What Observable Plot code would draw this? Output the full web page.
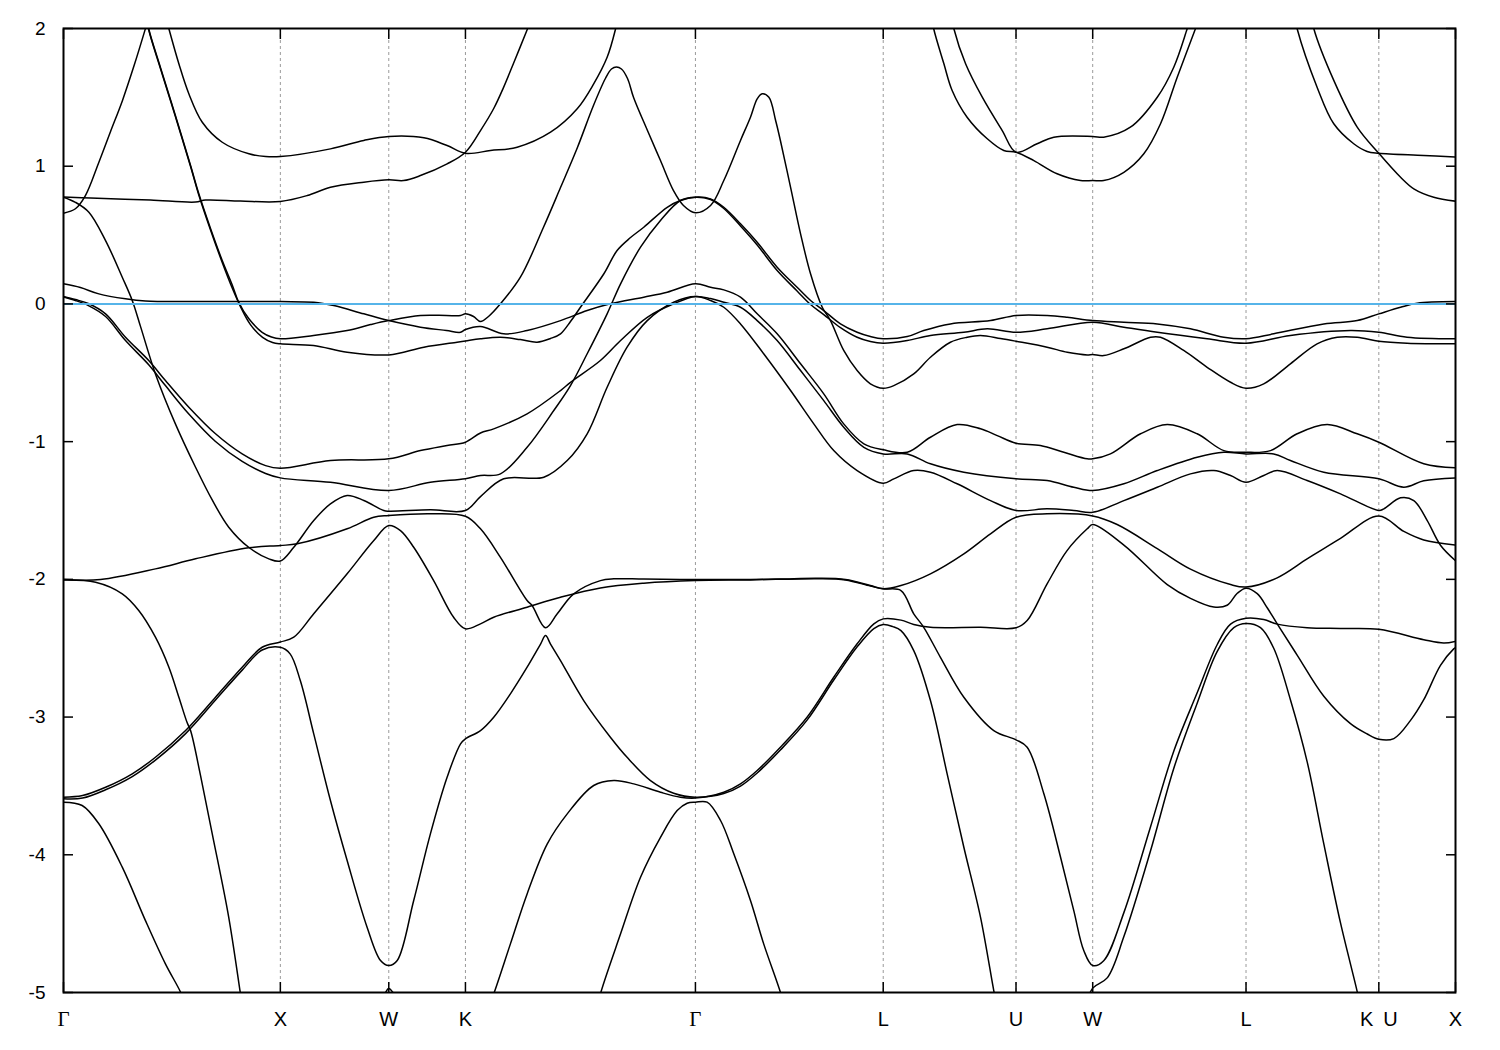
<!DOCTYPE html>
<html>
<head>
<meta charset="utf-8">
<script src="https://cdn.jsdelivr.net/npm/d3@7"></script>
<script src="https://cdn.jsdelivr.net/npm/@observablehq/plot@0.6"></script>
<style>
  html, body { margin: 0; padding: 0; background: #fff; }
  #chart svg { display: block; }
</style>
</head>
<body>
<div id="chart"></div>
<script>
// High-symmetry path (k in units of 2π/a) and labels
const kTicks = [0, 1.0, 1.5, 1.8536, 2.9142, 3.7802, 4.3926, 4.7462, 5.4533, 6.0657, 6.4193];
const kLabels = ["Γ", "X", "W", "K", "Γ", "L", "U", "W", "L", "K\u2002U", "X"];
const eTicks = [-5, -4, -3, -2, -1, 0, 1, 2];
const fermiLevel = 0;

// Bands: [k, E(eV)]
const band01 = [[0,0.659],[0.055,0.691],[0.101,0.787],[0.161,1.020],[0.217,1.252],[0.272,1.478],[0.327,1.738],[0.378,2.000],[0.397,2.102]];
const band02 = [[0.383,2.102],[0.393,1.998],[0.447,1.717],[0.516,1.368],[0.586,1.005],[0.624,0.800],[0.678,0.548],[0.732,0.315],[0.779,0.134],[0.808,0.012],[0.855,-0.108],[0.916,-0.206],[0.959,-0.240],[1.0,-0.253],
  [1.153,-0.229],[1.308,-0.193],[1.416,-0.150],[1.5,-0.121],
  [1.646,-0.084],[1.766,-0.084],[1.831,-0.084],[1.8536,-0.072],
  [1.891,-0.091],[1.923,-0.128],[1.960,-0.091],[2.015,0.001],[2.107,0.194],[2.213,0.555],[2.292,0.845],[2.370,1.136],[2.444,1.441],[2.499,1.637],[2.527,1.706],[2.550,1.721],[2.573,1.706],[2.601,1.637],[2.629,1.499],[2.693,1.259],[2.753,1.041],[2.813,0.823],[2.859,0.715],[2.9142,0.662],
  [2.984,0.715],[3.045,0.896],[3.122,1.187],[3.168,1.356],[3.199,1.489],[3.222,1.526],[3.253,1.501],[3.284,1.332],[3.306,1.187],[3.353,0.847],[3.399,0.509],[3.445,0.219],[3.499,-0.024],[3.537,-0.121],[3.598,-0.338],[3.660,-0.484],[3.721,-0.580],[3.7802,-0.612],
  [3.829,-0.593],[3.921,-0.508],[3.998,-0.387],[4.090,-0.278],[4.167,-0.242],[4.229,-0.229],[4.321,-0.251],[4.3926,-0.271],[4.536,-0.314],[4.629,-0.351],[4.721,-0.370],[4.7462,-0.367],
  [4.797,-0.375],[4.890,-0.326],[5.013,-0.242],[5.059,-0.242],[5.166,-0.338],[5.274,-0.460],[5.382,-0.569],[5.4533,-0.612],
  [5.535,-0.580],[5.658,-0.435],[5.781,-0.290],[5.874,-0.242],[5.966,-0.242],[6.0657,-0.271],[6.196,-0.285],[6.4193,-0.290]];
const band03 = [[0.383,2.088],[0.393,1.991],[0.447,1.710],[0.516,1.361],[0.586,0.998],[0.624,0.791],[0.678,0.537],[0.732,0.301],[0.779,0.112],[0.816,-0.019],[0.862,-0.150],[0.918,-0.243],[0.964,-0.280],[1.0,-0.290],
  [1.153,-0.302],[1.308,-0.351],[1.5,-0.370],[1.662,-0.314],[1.815,-0.278],[1.8536,-0.269],
  [1.923,-0.253],[2.015,-0.242],[2.107,-0.259],[2.184,-0.278],[2.246,-0.251],[2.292,-0.217],[2.338,-0.128],[2.384,-0.024],[2.492,0.219],[2.553,0.388],[2.615,0.482],[2.676,0.557],[2.784,0.702],[2.845,0.751],[2.9142,0.775],
  [2.984,0.763],[3.045,0.702],[3.122,0.582],[3.199,0.448],[3.291,0.267],[3.383,0.121],[3.445,0.025],[3.506,-0.048],[3.583,-0.145],[3.660,-0.206],[3.721,-0.237],[3.7802,-0.253],
  [3.891,-0.237],[3.967,-0.193],[4.090,-0.145],[4.275,-0.121],[4.3926,-0.084],[4.536,-0.084],[4.629,-0.097],[4.7462,-0.121],
  [4.890,-0.133],[5.044,-0.145],[5.197,-0.181],[5.351,-0.242],[5.4533,-0.253],
  [5.581,-0.217],[5.812,-0.145],[5.966,-0.121],[6.0657,-0.072],[6.166,-0.024],[6.243,0.005],[6.4193,0.017]];
const band04 = [[0,0.050],[0.055,0.025],[0.115,-0.012],[0.194,-0.091],[0.286,-0.266],[0.392,-0.440],[0.470,-0.593],[0.576,-0.796],[0.701,-0.999],[0.824,-1.144],[0.932,-1.231],[1.0,-1.263],
  [1.231,-1.295],[1.5,-1.355],[1.692,-1.295],[1.8536,-1.270],
  [1.923,-1.246],[2.015,-1.234],[2.138,-1.041],[2.261,-0.774],[2.338,-0.593],[2.415,-0.362],[2.507,-0.072],[2.569,0.146],[2.661,0.412],[2.753,0.606],[2.845,0.751],[2.9142,0.775],
  [2.984,0.758],[3.045,0.693],[3.122,0.566],[3.199,0.428],[3.291,0.243],[3.383,0.094],[3.445,-0.004],[3.506,-0.077],[3.583,-0.172],[3.660,-0.242],[3.721,-0.273],[3.7802,-0.285],
  [3.891,-0.266],[3.998,-0.229],[4.152,-0.206],[4.260,-0.181],[4.3926,-0.206],[4.536,-0.181],[4.7462,-0.133],
  [4.890,-0.169],[5.044,-0.206],[5.274,-0.253],[5.4533,-0.285],
  [5.658,-0.229],[5.935,-0.193],[6.0657,-0.206],[6.196,-0.242],[6.4193,-0.253]];
const band05 = [[0,0.146],[0.078,0.119],[0.163,0.073],[0.286,0.037],[0.378,0.021],[0.586,0.017],[1.0,0.017],
  [1.154,0.012],[1.246,-0.012],[1.385,-0.072],[1.5,-0.121],
  [1.646,-0.169],[1.766,-0.193],[1.831,-0.206],[1.8536,-0.186],
  [1.923,-0.164],[2.030,-0.217],[2.138,-0.193],[2.292,-0.121],[2.415,-0.048],[2.522,0.001],[2.676,0.049],[2.784,0.085],[2.9142,0.146],
  [2.984,0.121],[3.045,0.102],[3.122,0.049],[3.199,-0.072],[3.291,-0.217],[3.399,-0.435],[3.506,-0.653],[3.598,-0.871],[3.691,-1.016],[3.7802,-1.059],
  [3.891,-1.077],[3.998,-0.968],[4.121,-0.876],[4.229,-0.907],[4.306,-0.956],[4.3926,-1.011],[4.505,-1.028],[4.613,-1.077],[4.721,-1.125],[4.7462,-1.125],
  [4.828,-1.089],[4.967,-0.943],[5.090,-0.876],[5.228,-0.943],[5.351,-1.065],[5.4533,-1.077],
  [5.566,-1.065],[5.689,-0.943],[5.828,-0.876],[5.966,-0.943],[6.0657,-1.004],[6.273,-1.161],[6.4193,-1.190]];
const band06 = [[0,0.054],[0.055,0.032],[0.117,0.001],[0.194,-0.072],[0.286,-0.242],[0.393,-0.411],[0.470,-0.556],[0.578,-0.750],[0.701,-0.943],[0.824,-1.089],[0.932,-1.174],[1.0,-1.193],
  [1.231,-1.137],[1.5,-1.125],[1.646,-1.065],[1.769,-1.028],[1.8536,-1.004],
  [1.923,-0.937],[1.984,-0.907],[2.138,-0.798],[2.292,-0.629],[2.338,-0.569],[2.476,-0.411],[2.569,-0.266],[2.692,-0.097],[2.814,0.001],[2.9142,0.054],
  [2.984,0.039],[3.045,0.012],[3.122,-0.024],[3.199,-0.121],[3.291,-0.266],[3.399,-0.484],[3.506,-0.702],[3.598,-0.895],[3.691,-1.041],[3.7802,-1.089],
  [3.891,-1.089],[3.998,-1.161],[4.152,-1.222],[4.3926,-1.270],[4.536,-1.282],[4.659,-1.331],[4.7462,-1.355],
  [4.890,-1.306],[5.044,-1.210],[5.228,-1.113],[5.351,-1.077],[5.4533,-1.089],
  [5.581,-1.089],[5.658,-1.137],[5.812,-1.222],[6.0657,-1.270],[6.181,-1.331],[6.273,-1.284],[6.4193,-1.263]];
const band07 = [[0,0.775],[0.055,0.738],[0.117,0.666],[0.194,0.460],[0.271,0.194],[0.317,0.025],[0.355,-0.163],[0.424,-0.508],[0.516,-0.871],[0.609,-1.186],[0.687,-1.427],[0.762,-1.621],[0.854,-1.767],[0.947,-1.851],[1.0,-1.867],
  [1.062,-1.767],[1.154,-1.573],[1.231,-1.452],[1.308,-1.391],[1.385,-1.427],[1.477,-1.500],[1.5,-1.505],[1.692,-1.495],[1.8536,-1.500],
  [1.923,-1.399],[2.030,-1.270],[2.215,-1.258],[2.323,-1.137],[2.415,-0.943],[2.507,-0.605],[2.599,-0.314],[2.692,-0.121],[2.814,0.012],[2.9142,0.054],
  [2.984,0.025],[3.045,-0.024],[3.122,-0.145],[3.229,-0.362],[3.353,-0.629],[3.460,-0.871],[3.552,-1.065],[3.660,-1.210],[3.7802,-1.302],
  [3.829,-1.270],[3.921,-1.210],[3.998,-1.222],[4.121,-1.306],[4.275,-1.428],[4.3926,-1.500],[4.536,-1.488],[4.659,-1.500],[4.7462,-1.513],
  [4.890,-1.428],[5.044,-1.331],[5.197,-1.234],[5.305,-1.210],[5.382,-1.246],[5.4533,-1.295],
  [5.535,-1.246],[5.597,-1.210],[5.735,-1.282],[5.889,-1.379],[6.0657,-1.500],[6.089,-1.488],[6.166,-1.408],[6.227,-1.428],[6.289,-1.573],[6.350,-1.752],[6.4193,-1.864]];
const band08 = [[0,-2.001],[0.171,-2.001],[0.424,-1.924],[0.609,-1.851],[0.854,-1.771],[1.0,-1.754],
  [1.078,-1.742],[1.308,-1.633],[1.431,-1.549],[1.5,-1.537],[1.692,-1.524],[1.8536,-1.542],
  [1.923,-1.633],[2.015,-1.840],[2.138,-2.154],[2.161,-2.190],[2.223,-2.352],[2.277,-2.250],[2.353,-2.105],[2.476,-2.009],[2.538,-1.996],[2.676,-1.998],[2.9142,-2.001],
  [3.168,-2.001],[3.306,-1.998],[3.476,-1.992],[3.606,-2.001],[3.721,-2.045],[3.7802,-2.069],
  [3.862,-2.045],[3.998,-1.960],[4.152,-1.815],[4.275,-1.670],[4.3926,-1.549],[4.536,-1.524],[4.7462,-1.540],
  [4.859,-1.602],[5.044,-1.777],[5.197,-1.926],[5.382,-2.038],[5.4533,-2.056],
  [5.597,-1.989],[5.735,-1.852],[5.889,-1.702],[6.0657,-1.540],[6.181,-1.652],[6.273,-1.714],[6.4193,-1.751]];
const band09 = [[0,-3.582],[0.088,-3.570],[0.194,-3.510],[0.317,-3.412],[0.424,-3.292],[0.563,-3.098],[0.701,-2.856],[0.824,-2.638],[0.916,-2.493],[1.0,-2.455],
  [1.062,-2.420],[1.154,-2.250],[1.308,-1.960],[1.431,-1.718],[1.5,-1.609],[1.554,-1.646],[1.615,-1.767],[1.707,-2.009],[1.799,-2.275],[1.8536,-2.359],
  [1.923,-2.323],[1.984,-2.275],[2.138,-2.202],[2.292,-2.130],[2.476,-2.062],[2.676,-2.028],[2.9142,-2.009],
  [3.168,-2.004],[3.476,-1.995],[3.606,-2.004],[3.721,-2.049],[3.7802,-2.069],
  [3.862,-2.081],[3.921,-2.250],[3.967,-2.348],[4.044,-2.566],[4.152,-2.856],[4.290,-3.098],[4.3926,-3.165],[4.444,-3.219],[4.521,-3.557],[4.598,-4.018],[4.659,-4.405],[4.705,-4.695],[4.7462,-4.804],
  [4.797,-4.769],[4.890,-4.420],[5.013,-3.796],[5.120,-3.248],[5.228,-2.824],[5.320,-2.475],[5.382,-2.325],[5.4533,-2.283],
  [5.535,-2.292],[5.597,-2.325],[5.735,-2.351],[5.889,-2.357],[6.0657,-2.363],[6.273,-2.438],[6.365,-2.462],[6.4193,-2.450]];
const band10 = [[0,-3.593],[0.088,-3.588],[0.194,-3.528],[0.317,-3.432],[0.424,-3.312],[0.563,-3.120],[0.701,-2.876],[0.824,-2.659],[0.916,-2.513],[1.0,-2.493],
  [1.045,-2.541],[1.092,-2.735],[1.154,-3.122],[1.231,-3.606],[1.308,-4.042],[1.400,-4.526],[1.462,-4.768],[1.5,-4.804],[1.539,-4.768],[1.615,-4.332],[1.692,-3.848],[1.769,-3.437],[1.831,-3.194],[1.8536,-3.158],
  [1.923,-3.098],[1.984,-3.001],[2.061,-2.831],[2.138,-2.638],[2.200,-2.470],[2.223,-2.408],[2.246,-2.470],[2.292,-2.590],[2.399,-2.880],[2.522,-3.146],[2.599,-3.292],[2.707,-3.461],[2.814,-3.553],[2.9142,-3.582],
  [3.045,-3.555],[3.122,-3.501],[3.199,-3.406],[3.306,-3.239],[3.429,-3.022],[3.552,-2.731],[3.660,-2.490],[3.737,-2.357],[3.7802,-2.328],[3.825,-2.343],[3.862,-2.372],
  [3.921,-2.517],[3.998,-2.880],[4.075,-3.412],[4.152,-3.945],[4.229,-4.454],[4.290,-4.986],[4.298,-5.044]];
const band11 = [[1.969,-5.071],[1.984,-5.010],[2.061,-4.647],[2.138,-4.284],[2.231,-3.921],[2.323,-3.703],[2.445,-3.497],[2.538,-3.461],[2.630,-3.485],[2.753,-3.546],[2.845,-3.582],[2.9142,-3.588],
  [3.045,-3.546],[3.122,-3.485],[3.199,-3.388],[3.306,-3.219],[3.429,-3.001],[3.552,-2.711],[3.660,-2.468],[3.737,-2.323],[3.7802,-2.287],
  [3.862,-2.296],[3.921,-2.328],[3.998,-2.348],[4.229,-2.348],[4.3926,-2.352],
  [4.444,-2.299],[4.536,-2.033],[4.628,-1.791],[4.721,-1.633],[4.7462,-1.602],
  [4.890,-1.751],[5.090,-2.038],[5.197,-2.138],[5.305,-2.201],[5.366,-2.188],[5.413,-2.101],[5.4533,-2.064],
  [5.505,-2.104],[5.551,-2.206],[5.597,-2.323],[5.689,-2.550],[5.812,-2.849],[5.935,-3.048],[6.012,-3.123],[6.0657,-3.161],[6.135,-3.156],[6.212,-3.024],[6.273,-2.874],[6.350,-2.624],[6.411,-2.505],[6.4193,-2.495]];
const band12 = [[4.718,-5.080],[4.7462,-4.968],[4.813,-4.894],[4.890,-4.594],[5.013,-3.971],[5.120,-3.373],[5.228,-2.899],[5.320,-2.525],[5.397,-2.351],[5.4533,-2.320],[5.520,-2.351],[5.581,-2.500],[5.658,-2.874],[5.735,-3.323],[5.812,-3.921],[5.889,-4.495],[5.966,-4.994],[5.977,-5.080]];
const band13 = [[0,-2.005],[0.148,-2.021],[0.271,-2.105],[0.347,-2.226],[0.424,-2.420],[0.486,-2.638],[0.532,-2.856],[0.570,-3.040],[0.586,-3.098],[0.632,-3.425],[0.686,-3.848],[0.762,-4.454],[0.816,-5.008],[0.825,-5.095]];
const band14 = [[0,-3.618],[0.086,-3.642],[0.163,-3.775],[0.271,-4.090],[0.378,-4.478],[0.470,-4.792],[0.540,-4.998],[0.558,-5.073]];
const band15 = [[0.470,2.094],[0.486,1.998],[0.532,1.744],[0.578,1.526],[0.640,1.319],[0.732,1.174],[0.855,1.090],[0.932,1.070],[1.0,1.070],[1.231,1.126],[1.385,1.187],[1.5,1.216],[1.662,1.206],[1.769,1.150],[1.8536,1.094],[1.969,1.114],[2.092,1.138],[2.246,1.247],[2.369,1.417],[2.445,1.598],[2.507,1.791],[2.546,1.998],[2.559,2.094]];
const band16 = [[0,0.776],[0.125,0.769],[0.401,0.754],[0.609,0.740],[0.655,0.754],[0.816,0.747],[1.0,0.744],[1.124,0.787],[1.231,0.847],[1.385,0.884],[1.5,0.901],[1.568,0.896],[1.646,0.932],[1.769,1.017],[1.8536,1.102],[1.923,1.259],[1.984,1.419],[2.029,1.571],[2.075,1.746],[2.140,1.998],[2.158,2.072]];
const band17 = [[4.003,2.094],[4.013,1.998],[4.060,1.744],[4.098,1.550],[4.167,1.356],[4.260,1.199],[4.336,1.114],[4.3926,1.102],[4.475,1.041],[4.582,0.945],[4.690,0.896],[4.7462,0.896],[4.797,0.896],[4.890,0.956],[4.982,1.090],[5.059,1.308],[5.136,1.646],[5.220,1.998],[5.243,2.094]];
const band18 = [[4.095,2.094],[4.106,1.998],[4.160,1.744],[4.237,1.501],[4.329,1.259],[4.3926,1.102],[4.490,1.163],[4.567,1.211],[4.7462,1.216],[4.797,1.211],[4.920,1.283],[5.044,1.501],[5.120,1.719],[5.182,1.998],[5.202,2.094]];
const band19 = [[5.677,2.094],[5.689,1.998],[5.781,1.574],[5.858,1.308],[5.950,1.163],[6.012,1.107],[6.0657,1.094],[6.273,1.078],[6.4193,1.066]];
const band20 = [[5.755,2.094],[5.766,1.998],[5.858,1.623],[5.966,1.284],[6.0657,1.094],[6.166,0.920],[6.227,0.836],[6.319,0.775],[6.4193,0.746]];
const band21 = [[2.467,-5.080],[2.476,-5.010],[2.569,-4.574],[2.661,-4.163],[2.753,-3.873],[2.830,-3.679],[2.876,-3.626],[2.9142,-3.618],[2.968,-3.618],[3.030,-3.751],[3.091,-3.993],[3.168,-4.332],[3.229,-4.647],[3.306,-4.998],[3.320,-5.080]];
const band22 = [[1.453,-5.095],[1.480,-5.015],[1.5,-4.971],[1.526,-5.015],[1.554,-5.095]];

const bands = [band01, band02, band03, band04, band05, band06, band07, band08, band09, band10, band11,
               band12, band13, band14, band15, band16, band17, band18, band19, band20, band21, band22];
const rows = bands.flatMap((b, i) => b.map(([k, e]) => ({band: i, k, e})));
const tickRows = kTicks.map((k, i) => ({k, label: kLabels[i]}));

const chart = Plot.plot({
  width: 1500,
  height: 1050,
  marginLeft: 63,
  marginRight: 45,
  marginTop: 28,
  marginBottom: 58,
  x: {domain: [kTicks[0], kTicks[kTicks.length - 1]], axis: null, label: null},
  y: {domain: [-5, 2], axis: null, label: null},
  style: {fontFamily: "'Liberation Sans', Arial, sans-serif", background: "#fff", color: "#000"},
  marks: [
    Plot.ruleX(kTicks.slice(1, -1), {stroke: "#9a9a9a", strokeWidth: 1, strokeDasharray: "3,3"}),
    Plot.line(rows, {x: "k", y: "e", z: "band", stroke: "#000", strokeWidth: 1.5, curve: "catmull-rom", clip: true}),
    Plot.ruleY([fermiLevel], {stroke: "#56b4e9", strokeWidth: 2}),
    // inward ticks
    Plot.axisY({ticks: eTicks, anchor: "left", label: null, tickSize: 10, dx: 10, tickFormat: () => "", strokeWidth: 1.5}),
    Plot.axisY({ticks: eTicks, anchor: "right", label: null, tickSize: 10, dx: -10, tickFormat: () => "", strokeWidth: 1.5}),
    Plot.axisX({ticks: kTicks, anchor: "bottom", label: null, tickSize: 10, dy: -10, tickFormat: () => "", strokeWidth: 1.5}),
    Plot.axisX({ticks: kTicks, anchor: "top", label: null, tickSize: 10, dy: 10, tickFormat: () => "", strokeWidth: 1.5}),
    // y labels
    Plot.axisY({ticks: eTicks, anchor: "left", label: null, tickSize: 0, tickPadding: 18, tickFormat: d => String(d), fontSize: 19}),
    // x labels
    Plot.text(tickRows.filter(d => d.label !== "Γ"), {x: "k", text: "label", frameAnchor: "bottom", lineAnchor: "top", dy: 19, fontSize: 20, fill: "#000"}),
    Plot.text(tickRows.filter(d => d.label === "Γ"), {x: "k", text: "label", frameAnchor: "bottom", lineAnchor: "top", dy: 19, fontSize: 21, fontFamily: "'Liberation Serif', serif", fill: "#000"}),
    Plot.frame({stroke: "#000", strokeWidth: 2})
  ]
});
document.getElementById("chart").appendChild(chart);
</script>
</body>
</html>
